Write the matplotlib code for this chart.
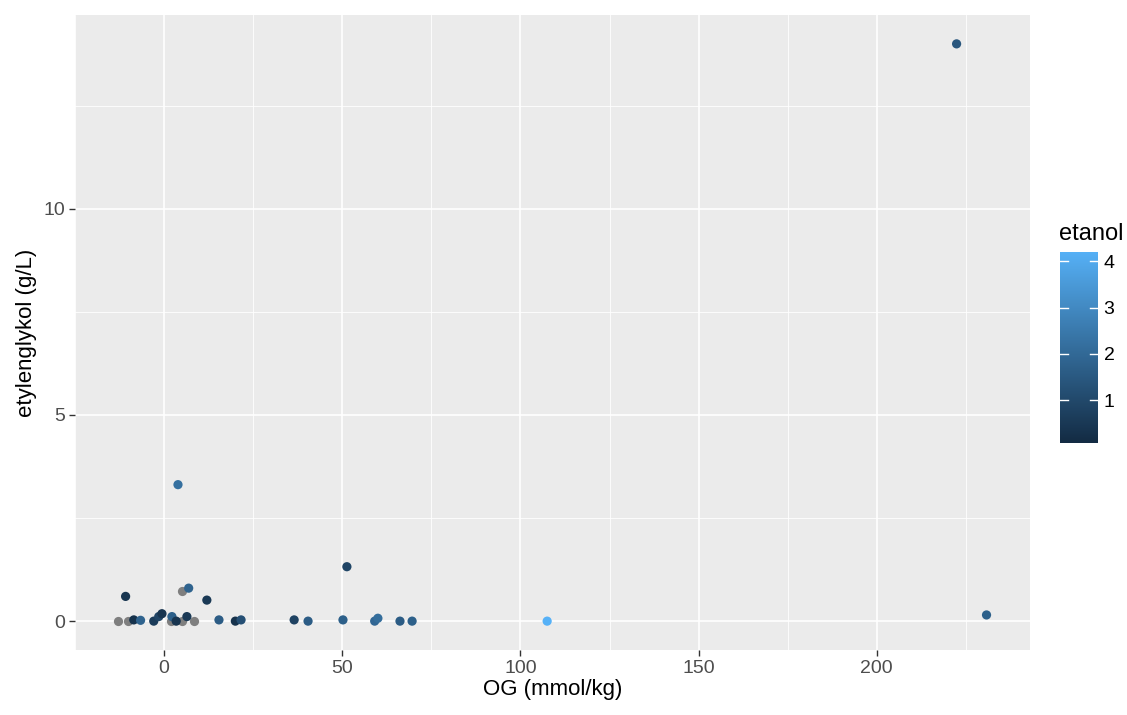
import numpy as np
import matplotlib
matplotlib.use("Agg")
import matplotlib.pyplot as plt
from matplotlib.colors import LinearSegmentedColormap, Normalize

plt.rcParams["font.family"] = ["Liberation Sans", "DejaVu Sans"]

# OG (mmol/kg), etylenglykol (g/L), etanol (nan = missing -> grey)
og = [-12.8, -10.0, -10.8, -8.5, -6.6, -2.9, -1.5, -0.6, 2.0, 2.2, 3.4, 5.0,
      5.0, 6.9, 6.4, 8.5, 12.0, 15.4, 20.0, 21.6, 3.9,
      36.5, 40.4, 51.3, 50.2, 59.1, 60.0, 66.2, 69.6, 107.5, 222.4, 230.8]
eg = [0.0, 0.0, 0.60, 0.03, 0.02, 0.0, 0.11, 0.18, 0.0, 0.11, 0.0, 0.0,
      0.72, 0.80, 0.11, 0.0, 0.51, 0.03, 0.0, 0.03, 3.31,
      0.03, 0.0, 1.32, 0.03, 0.0, 0.07, 0.0, 0.0, 0.0, 14.0, 0.15]
etanol = [np.nan, np.nan, 0.4, 0.3, 1.8, 0.6, 0.9, 0.4, np.nan, 1.7, 0.4, np.nan,
          np.nan, 1.8, 0.5, np.nan, 0.5, 1.6, 0.3, 1.2, 2.2,
          0.8, 1.6, 0.9, 1.7, 1.9, 2.1, 1.6, 1.7, 4.2, 1.4, 1.7]

og = np.array(og)
eg = np.array(eg)
etanol = np.array(etanol)

cmap = LinearSegmentedColormap.from_list("gg", ["#132B43", "#56B1F7"])
norm = Normalize(vmin=0.08, vmax=4.2)

fig = plt.figure(figsize=(11.27, 7.15), dpi=100)
ax = fig.add_axes([75 / 1127, 1 - 650 / 715, 955 / 1127, 635 / 715])
ax.set_facecolor("#EBEBEB")
for s in ax.spines.values():
    s.set_visible(False)

ax.set_xlim(-24.9, 243.0)
ax.set_ylim(-0.7, 14.7)
ax.set_xticks([0, 50, 100, 150, 200])
ax.set_yticks([0, 5, 10])
ax.set_xticks([-25, 25, 75, 125, 175, 225], minor=True)
ax.set_yticks([2.5, 7.5, 12.5], minor=True)
ax.grid(True, which="major", color="white", linewidth=1.2)
ax.grid(True, which="minor", color="white", linewidth=0.6)
ax.set_axisbelow(True)
ax.tick_params(which="major", length=4, width=1, color="#333333",
               labelsize=14, labelcolor="#4D4D4D", pad=3)
ax.tick_params(which="minor", length=0)

na = np.isnan(etanol)
ax.scatter(og[na], eg[na], s=44, color="#7F7F7F", linewidths=0, zorder=3)
ax.scatter(og[~na], eg[~na], s=44, c=etanol[~na], cmap=cmap, norm=norm,
           linewidths=0, zorder=3)

ax.set_xlabel("OG (mmol/kg)", fontsize=16, labelpad=2)
ax.set_ylabel("etylenglykol (g/L)", fontsize=16, labelpad=5)

# colour bar
cax = fig.add_axes([1060 / 1127, 1 - 443 / 715, 38 / 1127, 191 / 715])
grad = np.linspace(0.08, 4.2, 256).reshape(-1, 1)
cax.imshow(grad, aspect="auto", origin="lower", cmap=cmap, norm=norm,
           extent=[0, 1, 0.08, 4.2])
cax.set_xlim(0, 1)
cax.set_ylim(0.08, 4.2)
cax.set_xticks([])
for s in cax.spines.values():
    s.set_visible(False)
cax.yaxis.tick_right()
cax.set_yticks([1, 2, 3, 4])
cax.tick_params(axis="y", length=0, labelsize=14, labelcolor="black", pad=4)
for v in [1, 2, 3, 4]:
    cax.plot([0, 0.2], [v, v], color="white", lw=1)
    cax.plot([0.8, 1], [v, v], color="white", lw=1)
fig.text(1059 / 1127, 1 - 234 / 715, "etanol", fontsize=17, va="center", ha="left")

fig.savefig("out.png", dpi=100)
